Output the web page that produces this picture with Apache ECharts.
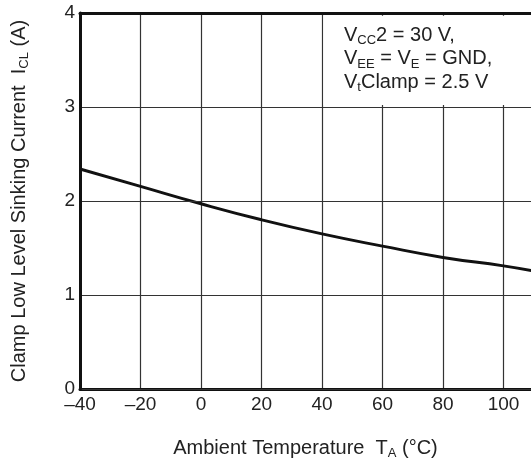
<!DOCTYPE html>
<html>
<head>
<meta charset="utf-8">
<script src="https://cdn.jsdelivr.net/npm/echarts@6/dist/echarts.min.js"></script>
<style>
  html, body { margin: 0; padding: 0; background: #fff; overflow: hidden; }
  #chart { width: 531px; height: 463px; }
</style>
</head>
<body>
<div id="chart"></div>
<script>
// temperature (°C) and clamp sinking current (A)
const temps = [-40, -20, 0, 20, 40, 60, 80, 100, 110]
const iclAmps = [2.34, 2.155, 1.97, 1.80, 1.65, 1.52, 1.40, 1.31, 1.255]

const xTicks = { min: -40, max: 120, step: 20 }
const yTicks = { min: 0, max: 4, step: 1 }

const textColor = '#222'
const fontFamily = '"Liberation Sans", Arial, sans-serif'
const subStyle = { fontSize: 13, color: textColor, fontFamily, verticalAlign: 'bottom', lineHeight: 10 }

const chart = echarts.init(document.getElementById('chart'), null, { renderer: 'canvas' })

chart.setOption({
  animation: false,
  backgroundColor: '#fff',
  grid: {
    left: 80,
    top: 13,
    height: 376,
    width: 484, // the picture is cut off before 120
    outerBoundsMode: 'none'
  },
  xAxis: [{
    type: 'value',
    min: xTicks.min,
    max: xTicks.max,
    interval: xTicks.step,
    name: 'Ambient Temperature  T{s|A} (°C)',
    nameLocation: 'middle',
    nameGap: 48,
    nameTextStyle: {
      color: textColor,
      fontSize: 20,
      lineHeight: 23,
      fontFamily,
      padding: [0, 33, 0, 0],
      rich: { s: subStyle }
    },
    axisLine: { show: true, onZero: false, lineStyle: { color: '#111', width: 3 } },
    axisTick: { show: false },
    splitLine: { show: true, lineStyle: { color: '#333', width: 1.2 } },
    axisLabel: {
      color: textColor,
      fontSize: 19,
      fontFamily,
      margin: 6,
      formatter: v => String(v).replace('-', '\u2013')
    }
  }, {
    // top border only
    type: 'value',
    position: 'top',
    min: xTicks.min,
    max: xTicks.max,
    z: 5,
    axisLine: { show: true, onZero: false, lineStyle: { color: '#111', width: 3 } },
    axisTick: { show: false },
    axisLabel: { show: false },
    splitLine: { show: false }
  }],
  yAxis: {
    type: 'value',
    min: yTicks.min,
    max: yTicks.max,
    interval: yTicks.step,
    name: 'Clamp Low Level Sinking Current  I{s|CL} (A)',
    nameLocation: 'middle',
    nameGap: 49,
    nameTextStyle: {
      color: textColor,
      fontSize: 20,
      lineHeight: 23,
      fontFamily,
      rich: { s: subStyle }
    },
    z: 5,
    axisLine: { show: true, onZero: false, lineStyle: { color: '#111', width: 3 } },
    axisTick: { show: false },
    splitLine: { show: true, lineStyle: { color: '#333', width: 1.2 } },
    axisLabel: { color: textColor, fontSize: 19, fontFamily, margin: 5 }
  },
  series: [{
    type: 'line',
    smooth: true,
    symbol: 'none',
    data: temps.map((t, i) => [t, iclAmps[i]]),
    lineStyle: { color: '#111', width: 3 },
    // blank box behind the conditions text
    markArea: {
      silent: true,
      itemStyle: { color: '#fff', opacity: 1 },
      data: [[{ coord: [40.5, 3.02] }, { coord: [120, 3.97] }]]
    }
  }],
  graphic: [{
    type: 'text',
    left: 344,
    top: 24,
    z: 10,
    style: {
      text: 'V{s|CC}2 = 30 V,\nV{s|EE} = V{s|E} = GND,\nV{s|t}Clamp = 2.5 V',
      fill: textColor,
      font: '20px ' + fontFamily,
      lineHeight: 23.3,
      rich: {
        s: { fontSize: 13, fill: textColor, fontFamily, verticalAlign: 'bottom', lineHeight: 10 }
      }
    }
  }]
})
</script>
</body>
</html>
